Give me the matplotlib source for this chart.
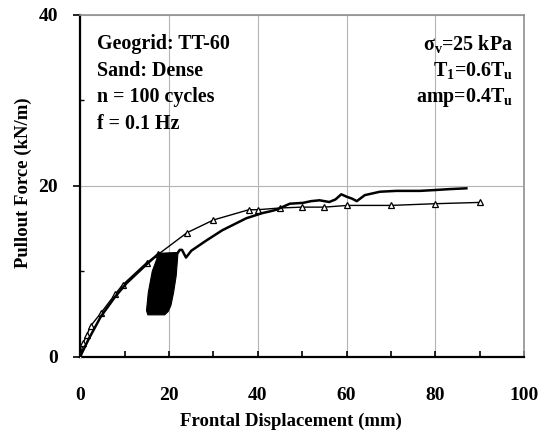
import matplotlib.pyplot as plt
from matplotlib.ticker import MultipleLocator

plt.rcParams['font.family'] = ['Liberation Serif', 'DejaVu Serif']
plt.rcParams['font.weight'] = 'bold'
plt.rcParams['mathtext.fontset'] = 'custom'
plt.rcParams['mathtext.rm'] = 'Liberation Serif:bold'
plt.rcParams['mathtext.bf'] = 'Liberation Serif:bold'
plt.rcParams['mathtext.it'] = 'Liberation Serif:bold'

# monotonic pullout test (open triangles)
mono_x = [0.0, 0.6, 1.4, 2.3, 4.6, 7.8, 9.5, 14.9, 17.6, 24.0, 30.0, 38.0, 40.0,
          45.0, 50.0, 55.0, 60.2, 70.0, 80.0, 90.0]
mono_y = [0.0, 1.6, 2.5, 3.6, 5.1, 7.3, 8.4, 11.0, 12.0, 14.5, 16.0, 17.2, 17.2,
          17.4, 17.5, 17.5, 17.7, 17.7, 17.9, 18.05]

# cyclic test: loading up to the cyclic stage
pre_x = [0.0, 0.3, 1.8, 4.6, 7.8, 10.4, 14.9, 17.7]
pre_y = [0.0, 0.4, 2.0, 4.7, 7.0, 8.6, 10.8, 12.1]

# outline of the 100 load cycles band
band_x = [17.7, 22.0, 21.6, 21.0, 20.4, 19.8, 19.0, 15.2, 14.9, 15.3, 16.2, 17.7]
band_y = [12.1, 12.2, 9.5, 7.5, 6.0, 5.3, 4.9, 4.9, 5.4, 7.5, 10.0, 12.1]

# cyclic test: post-cyclic pullout
post_x = [22.0, 22.4, 22.9, 23.4, 23.8, 25.0, 28.4, 32.0, 37.4, 41.0, 42.7, 44.2,
          47.2, 50.2, 52.0, 53.9, 55.0, 56.1, 57.5, 58.8, 60.1, 61.2, 62.3, 64.1,
          67.5, 71.2, 76.5, 80.0, 83.0, 87.0]
post_y = [12.2, 12.5, 12.5, 12.0, 11.6, 12.4, 13.6, 14.8, 16.2, 16.8, 17.0, 17.2,
          17.9, 18.0, 18.2, 18.3, 18.2, 18.1, 18.4, 19.0, 18.7, 18.5, 18.2, 18.9,
          19.3, 19.4, 19.4, 19.5, 19.6, 19.7]

left_txt = ['Geogrid: TT-60', 'Sand: Dense', 'n = 100 cycles', 'f = 0.1 Hz']
right_txt = [r'$\mathbf{\sigma_v}$=25 kPa', r'T$_\mathbf{1}$=0.6T$_\mathbf{u}$',
             r'amp=0.4T$_\mathbf{u}$']

fig = plt.figure(figsize=(5.47, 4.34), dpi=100)
ax = fig.add_axes([0.147, 0.178, 0.811, 0.788])

ax.plot(mono_x, mono_y, color='black', lw=1.0, marker='^', ms=5,
        mfc='white', mec='black', mew=0.9, zorder=3)
ax.plot(pre_x, pre_y, color='black', lw=1.8, zorder=4)
ax.fill(band_x, band_y, color='black', lw=0.8, zorder=4)
ax.plot(post_x, post_y, color='black', lw=1.8, zorder=4)

ax.set_xlim(0, 100)
ax.set_ylim(0, 40)
ax.xaxis.set_major_locator(MultipleLocator(20))
ax.xaxis.set_minor_locator(MultipleLocator(10))
ax.yaxis.set_major_locator(MultipleLocator(20))
ax.yaxis.set_minor_locator(MultipleLocator(10))
ax.grid(True, which='major', color='#b4b4b4', lw=0.8)
ax.set_axisbelow(True)

ax.tick_params(axis='x', which='both', direction='in', length=4, width=1.2,
               pad=22, labelsize=14)
ax.tick_params(axis='y', which='major', direction='out', length=5, width=1.2,
               pad=11, labelsize=14)
ax.tick_params(axis='y', which='minor', direction='in', length=3, width=1.0)

for s in ['left', 'bottom']:
    ax.spines[s].set_linewidth(1.6)
for s in ['top', 'right']:
    ax.spines[s].set_color('#909090')
    ax.spines[s].set_linewidth(1.2)

ax.set_xlabel('Frontal Displacement (mm)', fontsize=13.5, fontweight='bold')
ax.xaxis.set_label_coords(0.475, -0.165)
ax.set_ylabel('Pullout Force (kN/m)', fontsize=13.5, fontweight='bold')
ax.yaxis.set_label_coords(-0.11, 0.51)

for i, t in enumerate(left_txt):
    ax.text(0.038, 0.915 - i * 0.078, t, transform=ax.transAxes,
            fontsize=14.4, fontweight='bold', va='center', ha='left')

for i, t in enumerate(right_txt):
    ax.text(0.975, 0.915 - i * 0.078, t, transform=ax.transAxes,
            fontsize=14.4, fontweight='bold', va='center', ha='right')

fig.savefig('out.png', dpi=100)
